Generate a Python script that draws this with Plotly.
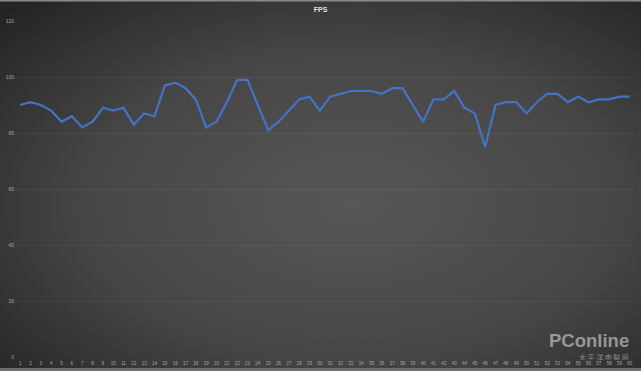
import base64
import plotly.graph_objects as go

frames = list(range(1, 61))
fps = [90, 91, 90, 88, 84, 86, 82, 84, 89, 88,
       89, 83, 87, 86, 97, 98, 96, 92, 82, 84,
       91, 99, 99, 90, 81, 84, 88, 92, 93, 88,
       93, 94, 95, 95, 95, 94, 96, 96, 90, 84,
       92, 92, 95, 89, 87, 75, 90, 91, 91, 87,
       91, 94, 94, 91, 93, 91, 92, 92, 93, 93]
y_ticks = [0, 20, 40, 60, 80, 100, 120]

W, H = 641, 371
ML, MR, MT, MB = 15, 6, 21, 14
pw, ph = W - ML - MR, H - MT - MB


def py(p):
    return (H - MB - p) / ph


def px(p):
    return (p - ML) / pw


svg = f'''<svg xmlns="http://www.w3.org/2000/svg" width="{W}" height="{H}" viewBox="0 0 {W} {H}" preserveAspectRatio="none">
<defs><radialGradient id="g" cx="55%" cy="55%" r="75%">
<stop offset="0%" stop-color="#575757"/>
<stop offset="55%" stop-color="#464646"/>
<stop offset="100%" stop-color="#242424"/>
</radialGradient></defs>
<rect x="0" y="0" width="{W}" height="{H}" fill="url(#g)"/>
<rect x="0" y="0" width="{W}" height="1.5" fill="#8a8a8a"/>
<rect x="0" y="{H-3}" width="{W}" height="3" fill="#6e6e6e"/>
</svg>'''
src = "data:image/svg+xml;base64," + base64.b64encode(svg.encode()).decode()

fig = go.Figure()
fig.add_trace(go.Scatter(
    x=frames, y=fps, mode="lines",
    line=dict(color="#4472C4", width=2.2),
    hoverinfo="x+y", showlegend=False,
))

fig.update_layout(
    width=W, height=H,
    margin=dict(l=ML, r=MR, t=MT, b=MB),
    paper_bgcolor="#333333",
    plot_bgcolor="rgba(0,0,0,0)",
    font=dict(family="Liberation Sans, Arial, sans-serif", color="#a6a6a6", size=5),
    title=dict(text="<b>FPS</b>", x=0.5, xanchor="center", y=1 - 10 / H, yanchor="middle",
               font=dict(size=7, color="#e0e0e0")),
    images=[dict(source=src, xref="paper", yref="paper",
                 x=-ML / pw, y=1 + MT / ph, sizex=W / pw, sizey=H / ph,
                 xanchor="left", yanchor="top", sizing="stretch", layer="below")],
    xaxis=dict(range=[0.5, 60.5], tickmode="array", tickvals=frames,
               ticktext=[str(v) for v in frames], showgrid=False, zeroline=False,
               showline=False, ticks="", tickfont=dict(size=4.5, color="#a6a6a6"),
               ticklabelstandoff=2, tickangle=0, fixedrange=True),
    yaxis=dict(range=[0, 120], tickmode="array", tickvals=y_ticks,
               showgrid=True, gridcolor="rgba(255,255,255,0.055)", gridwidth=1,
               zeroline=False, showline=False, ticks="",
               tickfont=dict(size=5, color="#a6a6a6"), fixedrange=True),
    annotations=[
        dict(text="<b>PConline</b>", xref="paper", yref="paper", x=px(630), y=py(340),
             xanchor="right", yanchor="middle", showarrow=False, height=14, borderpad=0,
             font=dict(size=18.5, color="rgba(215,215,215,0.6)", family="Liberation Sans, Arial")),
        dict(text="太 平 洋 电 脑 网", xref="paper", yref="paper", x=px(630), y=py(356),
             xanchor="right", yanchor="middle", showarrow=False, height=7, borderpad=0,
             font=dict(size=7, color="rgba(215,215,215,0.55)", family="Noto Sans CJK SC")),
    ],
)

fig.write_html("out.html")
